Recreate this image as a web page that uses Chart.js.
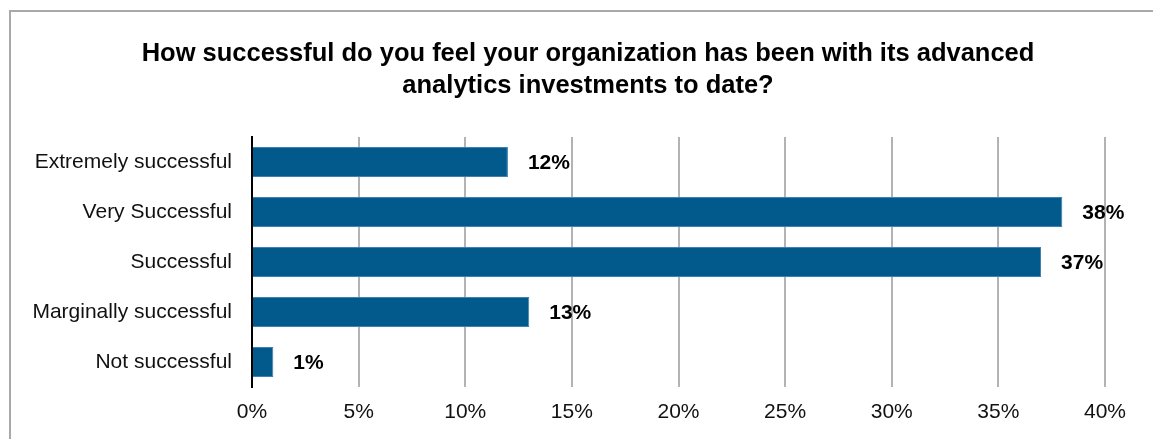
<!DOCTYPE html>
<html>
<head>
<meta charset="utf-8">
<script src="https://cdn.jsdelivr.net/npm/chart.js@4/dist/chart.umd.min.js"></script>
<style>
  body { margin: 0; background: #fff; overflow: hidden; }
  .frame { position: absolute; left: 9px; top: 10px; width: 1170px; height: 460px; border: 2px solid #a9a9a9; }
  #chart { position: absolute; left: 0; top: 0; }
</style>
</head>
<body>
<div class="frame"></div>
<canvas id="chart" width="1153" height="439"></canvas>
<script>
// ===================== data =====================
const categories = ['Extremely successful', 'Very Successful', 'Successful', 'Marginally successful', 'Not successful'];
const shares = [12, 38, 37, 13, 1];
const titleLines = ['How successful do you feel your organization has been with its advanced', 'analytics investments to date?'];

const FONT = "'Liberation Sans', Arial, sans-serif";

// draw the % value right of each bar
const valueLabels = {
  id: 'valueLabels',
  afterDatasetsDraw(chart) {
    const ctx = chart.ctx;
    const meta = chart.getDatasetMeta(0);
    ctx.save();
    ctx.font = 'bold 21px ' + FONT;
    ctx.fillStyle = '#000';
    ctx.textBaseline = 'middle';
    ctx.textAlign = 'left';
    meta.data.forEach((bar, i) => {
      ctx.fillText(shares[i] + '%', bar.x + 20, bar.y + 1);
    });
    ctx.restore();
  }
};

const ctx = document.getElementById('chart').getContext('2d');

const chart = new Chart(ctx, {
  type: 'bar',
  data: {
    labels: categories,
    datasets: [{
      data: shares,
      backgroundColor: '#02598c',
      borderColor: '#3d82b0',
      borderWidth: 1,
      barPercentage: 0.6,
      categoryPercentage: 1
    }]
  },
  options: {
    indexAxis: 'y',
    responsive: false,
    animation: false,
    layout: { padding: { top: 38, left: 23, right: 0, bottom: 0 } },
    plugins: {
      legend: { display: false },
      tooltip: { enabled: false },
      title: {
        display: true,
        text: titleLines,
        color: '#000',
        font: { family: FONT, size: 25.5, weight: 'bold', lineHeight: 32 / 25.5 },
        padding: { top: 0, bottom: 35 }
      }
    },
    scales: {
      x: {
        min: 0,
        max: 40,
        ticks: {
          stepSize: 5,
          padding: 13,
          color: '#111',
          font: { family: FONT, size: 21 },
          callback: v => v + '%'
        },
        grid: { color: '#b3b3b3', lineWidth: 2, drawTicks: false },
        border: { display: false },
        afterFit(scale) {
          scale.height = 52;
          scale.paddingRight = 48;
        }
      },
      y: {
        ticks: {
          padding: 20,
          color: '#111',
          font: { family: FONT, size: 21 }
        },
        grid: { display: false, drawTicks: false },
        border: { display: true, color: '#000', width: 2 },
        afterFit(scale) {
          scale.width = 229;
        }
      }
    }
  },
  plugins: [valueLabels]
});
</script>
</body>
</html>
